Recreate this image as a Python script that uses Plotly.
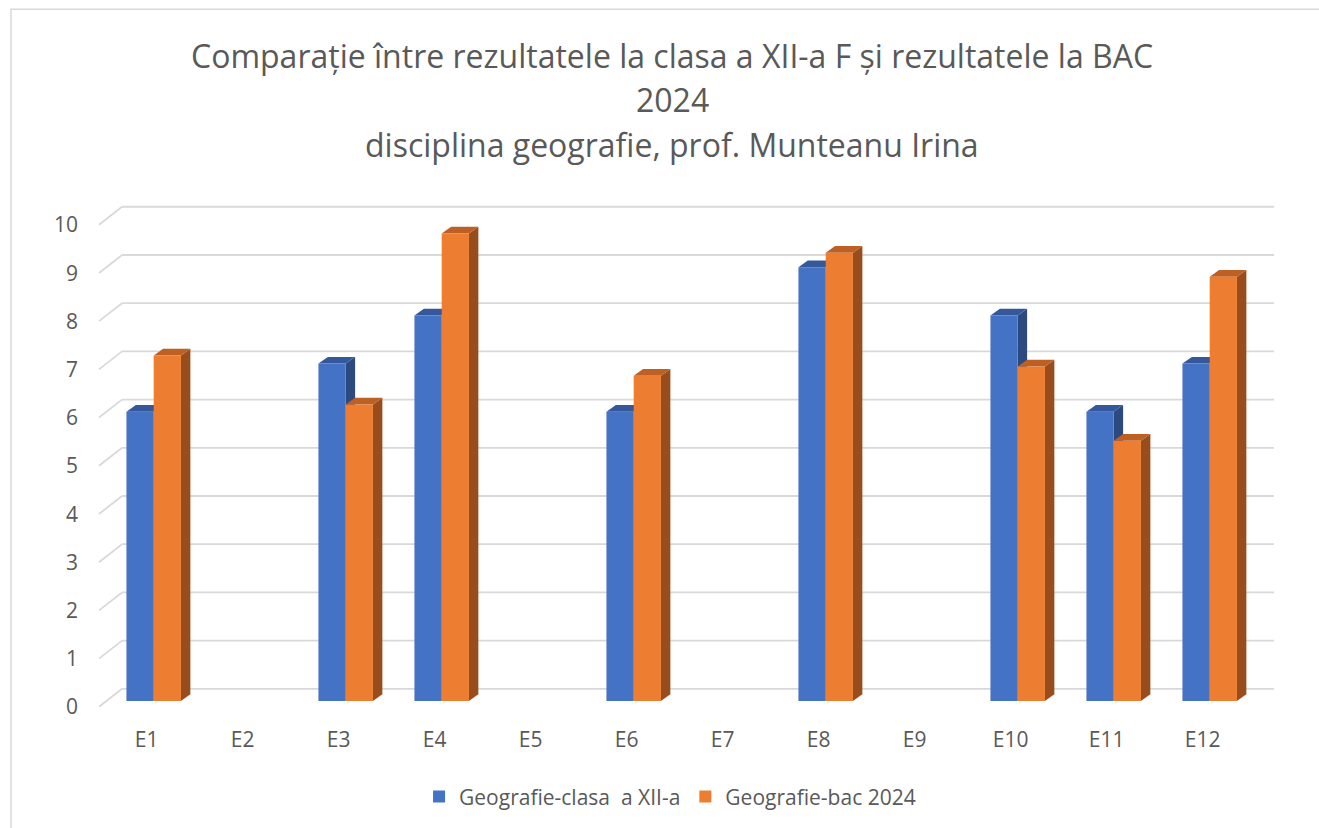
import plotly.graph_objects as go

# ---- data -------------------------------------------------------------
categories = ["E1", "E2", "E3", "E4", "E5", "E6", "E7", "E8", "E9", "E10", "E11", "E12"]
clasa_xii = [6, None, 7, 8, None, 6, None, 9, None, 8, 6, 7]
bac_2024 = [7.17, None, 6.15, 9.7, None, 6.75, None, 9.3, None, 6.94, 5.4, 8.8]
y_ticks = [0, 1, 2, 3, 4, 5, 6, 7, 8, 9, 10]

series_names = ["Geografie-clasa\u00a0 a XII-a", "Geografie-bac 2024"]
title_lines = [
    "Comparație între rezultatele la clasa a XII-a F și rezultatele la BAC",
    "2024",
    "disciplina geografie, prof. Munteanu Irina",
]

# ---- styling / geometry ----------------------------------------------
FONT = "'Open Sans', 'Noto Sans', sans-serif"
TEXT_COL = "#595959"
GRID_COL = "#d9d9d9"
FRONT = ["#4472C4", "#ED7D31"]
TOP = ["#34589A", "#BE5F23"]
SIDE = ["#2C4A80", "#9A4D1C"]

BAR_W = 0.284          # width of one bar (category units)
DEPTH_X = 0.098        # 3-D depth, horizontal (category units)
DEPTH_Y = 0.139        # 3-D depth, vertical (value units)
BACK_Y = 0.253         # back wall lies this far above the bar plane
FRONT_Y = -0.12        # front edge of the floor/side-wall lines
WALL_X = 0.0196        # side-wall depth as a fraction of the plot width

x_pos = list(range(1, len(categories) + 1))

fig = go.Figure()
offsets = [-BAR_W, 0.0]
for k, vals in enumerate([clasa_xii, bac_2024]):
    fig.add_trace(go.Bar(
        x=x_pos, y=vals, name=series_names[k],
        width=BAR_W, offset=offsets[k],
        marker=dict(color=FRONT[k], line=dict(width=0)),
        hoverinfo="skip",
    ))

shapes = []
# back-wall gridlines and the slanted side-wall lines
for v in y_ticks:
    shapes.append(dict(type="line", xref="x domain", yref="y",
                       x0=WALL_X, x1=1, y0=v + BACK_Y, y1=v + BACK_Y,
                       line=dict(color=GRID_COL, width=1.8), layer="below"))
    shapes.append(dict(type="line", xref="x domain", yref="y",
                       x0=0, x1=WALL_X, y0=v + FRONT_Y, y1=v + BACK_Y,
                       line=dict(color=GRID_COL, width=1.8), layer="below"))

# side and top faces of each column, series by series
for k, vals in enumerate([clasa_xii, bac_2024]):
    for xc, v in zip(x_pos, vals):
        if v is None:
            continue
        x0 = xc + offsets[k]
        x1 = x0 + BAR_W
        side = (f"M{x1},0 L{x1 + DEPTH_X},{DEPTH_Y} "
                f"L{x1 + DEPTH_X},{v + DEPTH_Y} L{x1},{v} Z")
        top = (f"M{x0},{v} L{x0 + DEPTH_X},{v + DEPTH_Y} "
               f"L{x1 + DEPTH_X},{v + DEPTH_Y} L{x1},{v} Z")
        shapes.append(dict(type="path", xref="x", yref="y", path=side,
                           fillcolor=SIDE[k], line=dict(width=0), layer="below"))
        shapes.append(dict(type="path", xref="x", yref="y", path=top,
                           fillcolor=TOP[k], line=dict(width=0), layer="below"))

# light frame around the chart area
shapes.append(dict(type="rect", xref="paper", yref="paper",
                   x0=-0.0749, x1=1.2, y0=-0.4, y1=1.3677,
                   line=dict(color="#d9d9d9", width=1.5), layer="below"))

# title, three centred lines
title_y = [1.278, 1.192, 1.104]
annotations = [
    dict(text=t, xref="paper", yref="paper", x=0.488, y=y,
         xanchor="center", yanchor="middle", showarrow=False,
         font=dict(family=FONT, size=32, color=TEXT_COL))
    for t, y in zip(title_lines, title_y)
]

fig.update_layout(
    width=1319, height=828,
    margin=dict(l=99, r=45, t=198, b=116),
    paper_bgcolor="white", plot_bgcolor="rgba(0,0,0,0)",
    barmode="overlay",
    showlegend=True,
    legend=dict(orientation="h", x=0.486, xanchor="center", y=-0.165,
                yanchor="middle", font=dict(family=FONT, size=21, color=TEXT_COL),
                bgcolor="rgba(0,0,0,0)"),
    shapes=shapes,
    annotations=annotations,
    font=dict(family=FONT, color=TEXT_COL),
)
fig.update_xaxes(range=[0.4302, 12.6698], tickmode="array", tickvals=x_pos,
                 ticktext=categories, showgrid=False, zeroline=False, showline=False,
                 ticks="", ticklabelstandoff=14, ticklabelshift=-7,
                 tickfont=dict(family=FONT, size=21, color=TEXT_COL), fixedrange=True)
fig.update_yaxes(range=[-0.207, 10.435], tickmode="array", tickvals=y_ticks,
                 showgrid=False, zeroline=False, showline=False,
                 ticks="", ticklabelstandoff=20, ticklabelshift=6,
                 tickfont=dict(family=FONT, size=21, color=TEXT_COL), fixedrange=True)

fig.write_html("out.html")
